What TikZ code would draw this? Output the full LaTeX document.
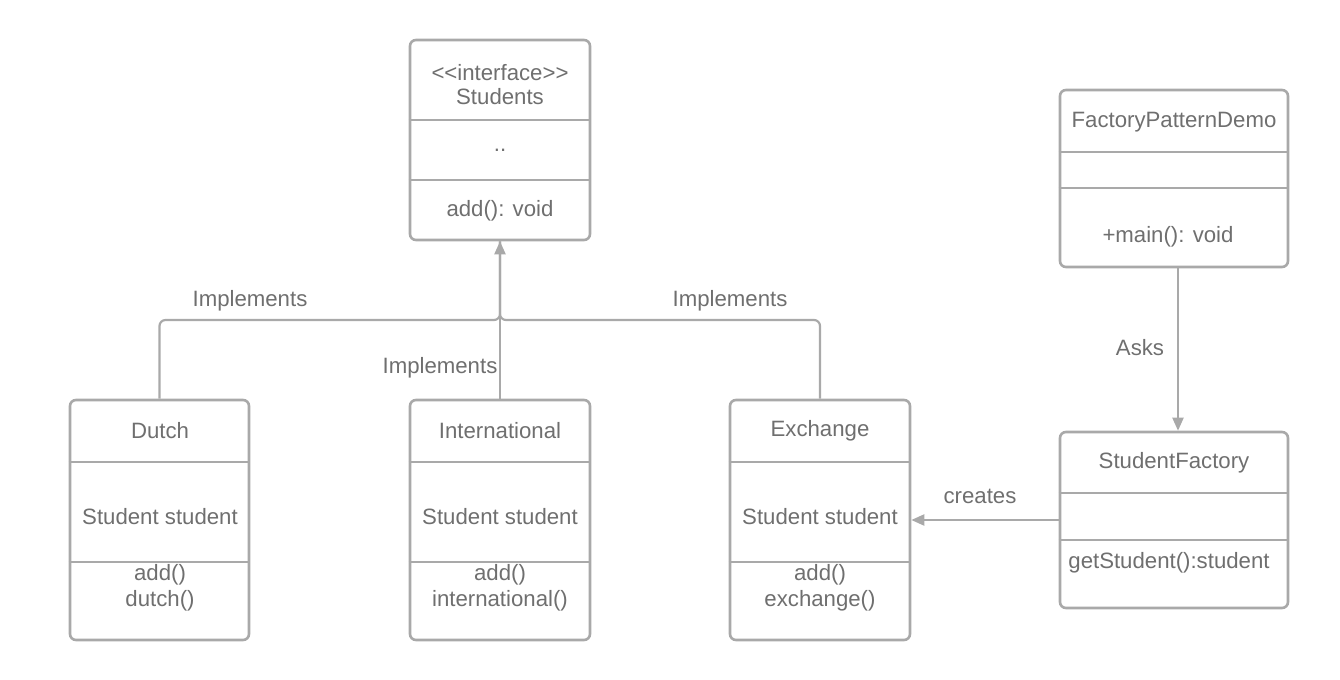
\documentclass[tikz,border=0pt]{standalone}
\usepackage{fontspec}
\setmainfont{Liberation Sans}
\usetikzlibrary{arrows.meta,positioning}
\definecolor{LineGrey}{HTML}{A9A9A9}
\definecolor{TextGrey}{HTML}{6F6F6F}

\begin{document}
\begin{tikzpicture}[x=0.5pt,y=-0.5pt,font=\fontsize{11.1}{13}\selectfont,
    classbox/.style={draw=LineGrey,line width=1.3pt,rounded corners=3pt,fill=white},
    sep/.style={draw=LineGrey,line width=1.3pt},
    txt/.style={text=TextGrey,inner sep=1pt},
    link/.style={draw=LineGrey,line width=1.1pt},
    tip/.style={-{Triangle[length=6.5pt,width=5.5pt]}}]
        \useasboundingbox (0,0) rectangle (1340,680);
        % class boxes
        \node[classbox,minimum width=90pt,minimum height=100pt] (students) at (500,140) {};
        \node[classbox,minimum width=114pt,minimum height=88.5pt] (demo) at (1174,178.5) {};
        \node[classbox,minimum width=89.5pt,minimum height=120pt] (dutch) at (159.5,520) {};
        \node[classbox,minimum width=90pt,minimum height=120pt] (intl) at (500,520) {};
        \node[classbox,minimum width=90pt,minimum height=120pt] (exch) at (820,520) {};
        \node[classbox,minimum width=114pt,minimum height=88pt] (factory) at (1174,520) {};
        % compartments
        \draw[sep] (students.west |- 0,120) -- (students.east |- 0,120);
        \draw[sep] (students.west |- 0,180) -- (students.east |- 0,180);
        \draw[sep] (demo.west |- 0,152) -- (demo.east |- 0,152);
        \draw[sep] (demo.west |- 0,188) -- (demo.east |- 0,188);
        \draw[sep] (factory.west |- 0,493) -- (factory.east |- 0,493);
        \draw[sep] (factory.west |- 0,540) -- (factory.east |- 0,540);
        \foreach \c in {dutch,intl,exch} {
          \draw[sep] (\c.west |- 0,462) -- (\c.east |- 0,462);
          \draw[sep] (\c.west |- 0,562) -- (\c.east |- 0,562);
        }
        % texts
        \node[txt] (stuhead) at (500,73) {<\kern0pt<interface>\kern0pt>};
        \node[txt] (stuname) at (500,97) {Students};
        \node[txt] (stuattr) at (500,150) {..};
        \node[txt] (stuop) at (500,211) {add(): void};
        \node[txt] (demoname) at (1174,122) {FactoryPatternDemo};
        \node[txt] (demoop) at (1168,237) {+main(): void};
        \node[txt] (factname) at (1174,463) {StudentFactory};
        \node[txt,anchor=west] (factop) at (1066,563) {getStudent():student};
        \node[txt] (dutchname) at (160,431) {Dutch};
        \node[txt] (intlname) at (500,431) {International};
        \node[txt] (exchname) at (820,431) {Exchange};
        \node[txt] (dutchattr) at (160,517) {Student student};
        \node[txt] (intlattr) at (500,517) {Student student};
        \node[txt] (exchattr) at (820,517) {Student student};
        \node[txt,align=center] (dutchop) at (160,588) {add()\\dutch()};
        \node[txt,align=center] (intlop) at (500,588) {add()\\international()};
        \node[txt,align=center] (exchop) at (820,588) {add()\\exchange()};
        % connectors
        \coordinate (hub) at (500,320);
        \draw[link,rounded corners=3pt] (dutch.north) |- (hub) -- (students.south);
        \draw[link,rounded corners=3pt] (exch.north) |- (hub) -- (students.south);
        \draw[link,tip] (intl.north) -- (students.south);
        \draw[link,tip] ([xshift=2pt]demo.south) -- ([xshift=2pt]factory.north);
        \draw[link,tip] (factory.west) -- (exch.east);
        % link labels
        \node[txt] (implleft) at (250,301) {Implements};
        \node[txt] (implright) at (730,301) {Implements};
        \node[txt] (implmid) at (440,368) {Implements};
        \node[txt] (asks) at (1140,348) {Asks};
        \node[txt] (creates) at (980,496) {creates};
\end{tikzpicture}
\end{document}
